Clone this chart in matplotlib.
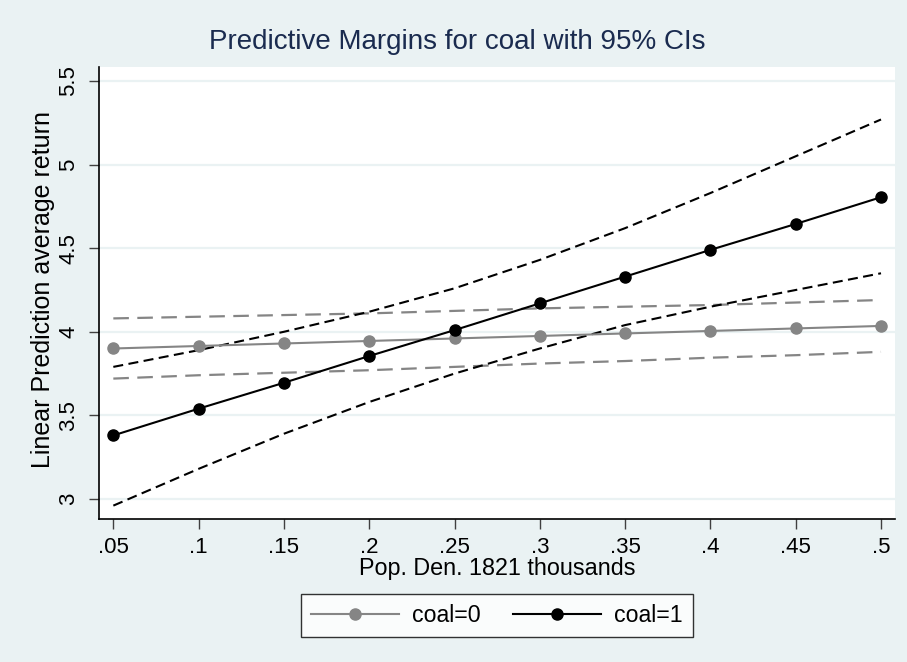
import numpy as np
import matplotlib.pyplot as plt
from matplotlib.lines import Line2D

# --- Data ---
pop_den = [0.05, 0.10, 0.15, 0.20, 0.25, 0.30, 0.35, 0.40, 0.45, 0.50]

coal0_mean = [3.90, 3.915, 3.93, 3.945, 3.96, 3.975, 3.99, 4.005, 4.02, 4.035]
coal0_hi = [4.08, 4.09, 4.10, 4.11, 4.125, 4.14, 4.15, 4.16, 4.175, 4.19]
coal0_lo = [3.72, 3.74, 3.755, 3.77, 3.79, 3.81, 3.825, 3.845, 3.86, 3.88]

coal1_mean = [3.38, 3.54, 3.695, 3.855, 4.01, 4.17, 4.33, 4.49, 4.645, 4.805]
coal1_hi = [3.79, 3.89, 4.00, 4.12, 4.26, 4.43, 4.62, 4.83, 5.05, 5.27]
coal1_lo = [2.96, 3.18, 3.39, 3.58, 3.75, 3.90, 4.04, 4.15, 4.25, 4.35]

xticks = [0.05, 0.10, 0.15, 0.20, 0.25, 0.30, 0.35, 0.40, 0.45, 0.50]
xtick_labels = ['.05', '.1', '.15', '.2', '.25', '.3', '.35', '.4', '.45', '.5']
yticks = [3, 3.5, 4, 4.5, 5, 5.5]
ytick_labels = ['3', '3.5', '4', '4.5', '5', '5.5']

bg = '#eaf2f3'
gray = '#858585'

plt.rcParams['font.family'] = ['Liberation Sans', 'DejaVu Sans']

fig = plt.figure(figsize=(9.07, 6.62), dpi=100, facecolor=bg)
ax = fig.add_axes([99 / 907, 1 - 519 / 662, (895 - 99) / 907, (519 - 67) / 662])
ax.set_facecolor('white')

for y in yticks:
    ax.axhline(y, color=bg, lw=1.6, zorder=0)

# confidence bands (dashed)
ax.plot(pop_den, coal0_hi, color=gray, lw=1.6, ls=(0, (7, 3.8)))
ax.plot(pop_den, coal0_lo, color=gray, lw=1.6, ls=(0, (7, 3.8)))
ax.plot(pop_den, coal1_hi, color='black', lw=1.5, ls=(0, (4.8, 2.6)))
ax.plot(pop_den, coal1_lo, color='black', lw=1.5, ls=(0, (4.8, 2.6)))

# point estimates
ax.plot(pop_den, coal0_mean, color=gray, lw=1.5, marker='o', ms=8, mfc=gray, mec=gray)
ax.plot(pop_den, coal1_mean, color='black', lw=1.5, marker='o', ms=8, mfc='black', mec='black')

ax.set_xlim(0.0416, 0.5082)
ax.set_ylim(2.880, 5.584)
ax.set_xticks(xticks)
ax.set_xticklabels(xtick_labels)
ax.set_yticks(yticks)
ax.set_yticklabels(ytick_labels, rotation=90, va='center')
ax.tick_params(axis='both', length=7, width=1, color='#404040', labelsize=16)
ax.tick_params(axis='x', pad=6)
ax.tick_params(axis='y', pad=7)

for side in ['top', 'right']:
    ax.spines[side].set_visible(False)
for side in ['left', 'bottom']:
    ax.spines[side].set_color('black')
    ax.spines[side].set_linewidth(1.2)

ax.set_xlabel('Pop. Den. 1821 thousands', fontsize=16.8, labelpad=-1)
ax.set_ylabel('Linear Prediction average return', fontsize=18)
ax.yaxis.set_label_coords(-0.0553, (519 - 290) / 452)
fig.suptitle('Predictive Margins for coal with 95% CIs', x=457 / 907, y=1 - 42 / 662,
             va='center', fontsize=20, color='#1a2b4f')

handles = [
    Line2D([], [], color=gray, lw=1.5, marker='o', ms=8, mfc=gray, mec=gray),
    Line2D([], [], color='black', lw=1.5, marker='o', ms=8, mfc='black', mec='black'),
]
leg = fig.legend(handles, ['coal=0', 'coal=1'], loc='center', ncol=2,
                 bbox_to_anchor=(497 / 907, 1 - 615.5 / 662), fontsize=16.7,
                 frameon=True, fancybox=False, handlelength=3.8, columnspacing=1.4,
                 borderpad=0.45, handletextpad=0.56, borderaxespad=0)
leg.get_frame().set_edgecolor('black')
leg.get_frame().set_linewidth(1)
leg.get_frame().set_facecolor('white')

fig.savefig('out.png', dpi=100, facecolor=bg)
